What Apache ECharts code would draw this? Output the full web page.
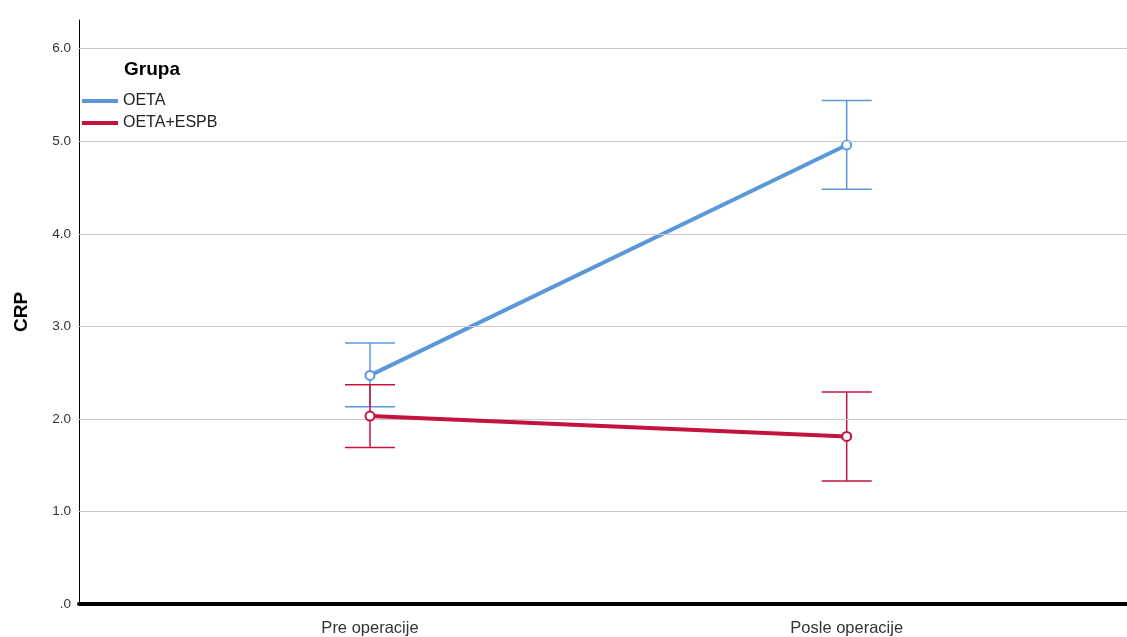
<!DOCTYPE html>
<html>
<head>
<meta charset="utf-8">
<script src="https://cdn.jsdelivr.net/npm/echarts@6/dist/echarts.min.js"></script>
<style>
  html, body { margin: 0; padding: 0; background: #fff; }
  #chart { width: 1127px; height: 637px; }
</style>
</head>
<body>
<div id="chart"></div>
<script>
// Measurement times on the x axis
const categories = ['Pre operacije', 'Posle operacije'];
// Group names
const groups = ['OETA', 'OETA+ESPB'];
// Mean CRP per group
const oetaMean = [2.47, 4.96];
const espbMean = [2.03, 1.81];
// 95% CI bounds per group
const oetaLow = [2.13, 4.48];
const oetaHigh = [2.82, 5.44];
const espbLow = [1.69, 1.33];
const espbHigh = [2.37, 2.29];
// Y-axis tick / gridline values
const yLabels = [0, 1, 2, 3, 4, 5, 6];
const yGrid = [1, 2, 3, 4, 5, 6];

const blue = '#5b98da';
const red = '#c4123f';
const font = 'Liberation Sans, Arial, sans-serif';

const toPoints = arr => arr.map((v, i) => [i, v]);
const toBars = (lo, hi) => lo.map((v, i) => [i, v, hi[i]]);

function errorBar(color) {
  return function (params, api) {
    const x = api.value(0);
    const top = api.coord([x, api.value(2)]);
    const bot = api.coord([x, api.value(1)]);
    const hw = 25;
    const style = { stroke: color, lineWidth: 1.5 };
    return {
      type: 'group',
      children: [
        { type: 'line', shape: { x1: top[0], y1: top[1], x2: bot[0], y2: bot[1] }, style },
        { type: 'line', shape: { x1: top[0] - hw, y1: top[1], x2: top[0] + hw, y2: top[1] }, style },
        { type: 'line', shape: { x1: bot[0] - hw, y1: bot[1], x2: bot[0] + hw, y2: bot[1] }, style }
      ]
    };
  };
}

const chart = echarts.init(document.getElementById('chart'), null, { renderer: 'canvas' });
chart.setOption({
  animation: false,
  backgroundColor: '#ffffff',
  textStyle: { fontFamily: font },
  grid: { left: 79, right: 0, top: 20, bottom: 33, containLabel: false },
  title: {
    text: 'Grupa',
    left: 119, top: 55,
    textStyle: { fontSize: 19, fontWeight: 'bold', color: '#000', fontFamily: font }
  },
  legend: {
    data: groups.map(g => ({ name: g, icon: 'rect' })),
    orient: 'vertical',
    left: 77, top: 88,
    itemWidth: 36, itemHeight: 4, itemGap: 6,
    textStyle: { fontSize: 16, color: '#222', fontFamily: font }
  },
  xAxis: {
    type: 'value',
    min: -0.6104,
    max: 1.588,
    axisLine: { show: true, onZero: false, lineStyle: { color: '#000', width: 4 } },
    axisTick: { show: false },
    splitLine: { show: false },
    axisLabel: {
      customValues: [0, 1],
      formatter: v => categories[Math.round(v)] || '',
      fontSize: 16.5, color: '#333', margin: 16
    }
  },
  yAxis: {
    type: 'value',
    min: 0, max: 6.31, interval: 1,
    name: 'CRP',
    nameLocation: 'middle',
    nameGap: 48,
    nameTextStyle: { fontSize: 19, fontWeight: 'bold', color: '#000' },
    axisLine: { show: true, onZero: false, lineStyle: { color: '#000', width: 1 } },
    axisTick: { show: false },
    splitLine: { show: false },
    axisLabel: {
      customValues: yLabels,
      formatter: v => (v === 0 ? '.0' : v.toFixed(1)),
      fontSize: 13.5, color: '#333', margin: 8
    }
  },
  series: [
    {
      name: 'grid',
      type: 'line',
      data: [],
      silent: true,
      markLine: {
        silent: true,
        symbol: 'none',
        label: { show: false },
        lineStyle: { color: '#c8c8c8', width: 1.2, type: 'solid' },
        data: yGrid.map(v => ({ yAxis: v }))
      },
      z: 1
    },
    {
      name: 'OETA-ci', type: 'custom', renderItem: errorBar(blue),
      data: toBars(oetaLow, oetaHigh), z: 3, silent: true
    },
    {
      name: 'ESPB-ci', type: 'custom', renderItem: errorBar(red),
      data: toBars(espbLow, espbHigh), z: 3, silent: true
    },
    {
      name: groups[0], type: 'line', data: toPoints(oetaMean),
      color: blue,
      symbol: 'emptyCircle', symbolSize: 9, showSymbol: true,
      itemStyle: { color: blue, borderWidth: 1.5 },
      lineStyle: { color: blue, width: 4 }, z: 4
    },
    {
      name: groups[1], type: 'line', data: toPoints(espbMean),
      color: red,
      symbol: 'emptyCircle', symbolSize: 9, showSymbol: true,
      itemStyle: { color: red, borderWidth: 1.5 },
      lineStyle: { color: red, width: 4 }, z: 5
    }
  ]
});
</script>
</body>
</html>
